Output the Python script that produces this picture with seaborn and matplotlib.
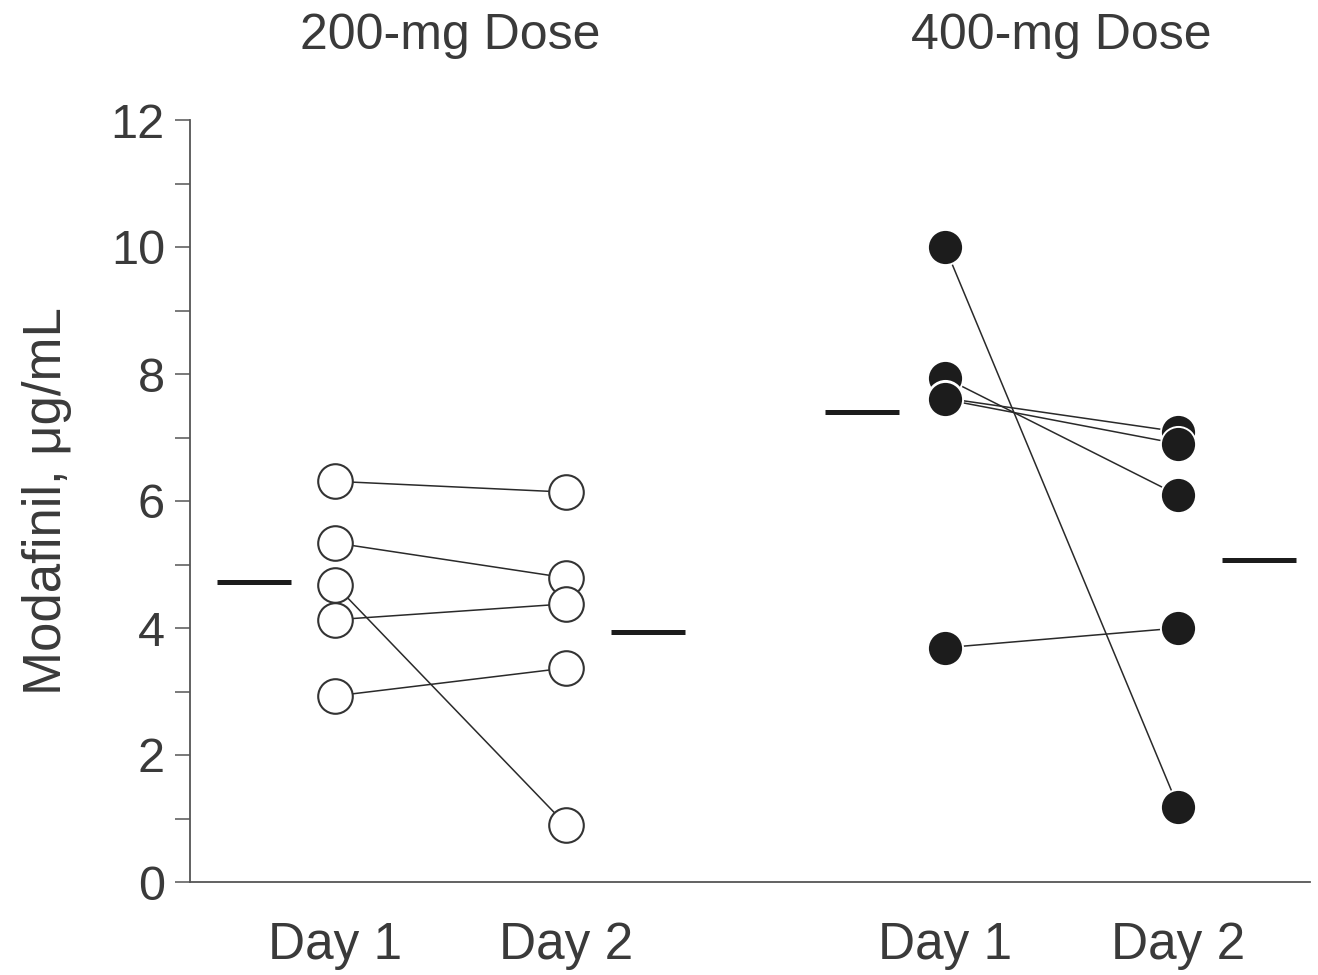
import numpy as np
import pandas as pd
import matplotlib
matplotlib.use("Agg")
import matplotlib.pyplot as plt
import seaborn as sns
from matplotlib.ticker import MultipleLocator
import matplotlib.transforms as mtransforms

sns.set_style("white")
plt.rcParams['font.family'] = ['Liberation Sans', 'DejaVu Sans']

# ---- data ----
dose_groups = ["200-mg Dose", "400-mg Dose"]
day_labels = ["Day 1", "Day 2", "Day 1", "Day 2"]
day1_200 = [6.31, 5.34, 4.68, 4.13, 2.93]
day2_200 = [6.14, 4.79, 0.90, 4.38, 3.37]
day1_400 = [10.0, 7.94, 7.62, 7.60, 3.69]
day2_400 = [1.18, 6.09, 7.09, 6.90, 4.00]
means_200 = [4.72, 3.93]
means_400 = [7.40, 5.07]

# category positions on the shared x axis
pos_200 = [1.0, 2.0]
pos_400 = [3.64, 4.65]
mean_pos_200 = [0.65, 2.355]
mean_pos_400 = [3.28, 5.0]

rows = []
for i, (a, b) in enumerate(zip(day1_200, day2_200)):
    rows.append(dict(subject=f"a{i}", dose="200", x=pos_200[0], y=a))
    rows.append(dict(subject=f"a{i}", dose="200", x=pos_200[1], y=b))
for i, (a, b) in enumerate(zip(day1_400, day2_400)):
    rows.append(dict(subject=f"b{i}", dose="400", x=pos_400[0], y=a))
    rows.append(dict(subject=f"b{i}", dose="400", x=pos_400[1], y=b))
df = pd.DataFrame(rows)

fig = plt.figure(figsize=(13.18, 9.75), dpi=100)
ax = fig.add_axes([190/1318, 1-882/975, (1310-190)/1318, (882-120)/975])

ink = "#1c1c1c"
txt = "#3a3a3a"

sns.lineplot(data=df, x="x", y="y", units="subject", estimator=None,
             color="#2a2a2a", linewidth=1.1, ax=ax, legend=False, zorder=2)

d200 = df[df.dose == "200"]
d400 = df[df.dose == "400"]
sns.scatterplot(data=d200, x="x", y="y", s=620, facecolor="white",
                edgecolor="#333333", linewidth=1.5, ax=ax, legend=False, zorder=3)
sns.scatterplot(data=d400, x="x", y="y", s=640, color=ink,
                edgecolor="white", linewidth=1.4, ax=ax, legend=False, zorder=3)

hw = 0.16
for xm, ym in zip(mean_pos_200 + mean_pos_400, means_200 + means_400):
    ax.hlines(ym, xm - hw, xm + hw, color=ink, linewidth=3.6, zorder=2)

ax.set_xlim(0.372, 5.22)
ax.set_ylim(0, 12)
ax.set_xticks(pos_200 + pos_400)
ax.set_xticklabels(day_labels)
ax.yaxis.set_major_locator(MultipleLocator(2))
ax.yaxis.set_minor_locator(MultipleLocator(1))

for s in ["top", "right"]:
    ax.spines[s].set_visible(False)
for s in ["left", "bottom"]:
    ax.spines[s].set_color("#555555")
    ax.spines[s].set_linewidth(1.3)

ax.tick_params(axis="y", which="both", direction="out", length=11, width=1.1,
               color="#555555", left=True, pad=7, labelsize=35, labelcolor=txt)
ax.tick_params(axis="x", which="both", length=0, pad=28, labelsize=37,
               labelcolor=txt)
ax.set_xlabel("")
ax.set_ylabel("Modafinil, μg/mL", fontsize=38, color=txt, labelpad=28)

trans = mtransforms.blended_transform_factory(ax.transData, fig.transFigure)
ax.text(np.mean(pos_200), 1-36/975, dose_groups[0], transform=trans,
        ha="center", va="center", fontsize=36, color=txt)
ax.text(np.mean(pos_400), 1-36/975, dose_groups[1], transform=trans,
        ha="center", va="center", fontsize=36, color=txt)

fig.savefig("out.png", dpi=100)
